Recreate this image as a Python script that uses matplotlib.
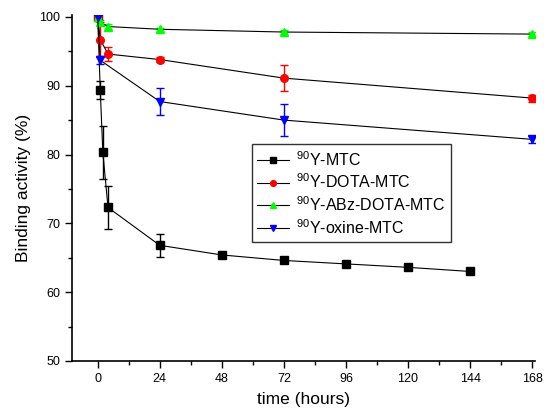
import numpy as np
import matplotlib
matplotlib.use("Agg")
import matplotlib.pyplot as plt
from matplotlib.ticker import MultipleLocator

plt.rcParams['font.family'] = ['Liberation Sans', 'DejaVu Sans']
plt.rcParams['mathtext.fontset'] = 'custom'
plt.rcParams['mathtext.rm'] = 'Liberation Sans'

# ---- data ----
t_mtc = [0, 1, 2, 4, 24, 48, 72, 96, 120, 144]
y_mtc = [100, 89.4, 80.3, 72.3, 66.8, 65.4, 64.6, 64.1, 63.6, 63.0]
e_mtc = [0.3, 1.3, 3.8, 3.1, 1.7, 0.4, 0.3, 0.3, 0.3, 0.3]

t_dota = [0, 1, 4, 24, 72, 168]
y_dota = [100, 96.7, 94.6, 93.8, 91.1, 88.2]
e_dota = [0.3, 2.5, 1.0, 0.3, 1.9, 0.5]

t_abz = [0, 1, 4, 24, 72, 168]
y_abz = [100, 99.2, 98.6, 98.2, 97.8, 97.5]
e_abz = [0.3, 0.4, 0.3, 0.2, 0.3, 0.3]

t_oxine = [0, 1, 24, 72, 168]
y_oxine = [100, 93.7, 87.7, 85.0, 82.2]
e_oxine = [0.3, 0.6, 2.0, 2.3, 0.5]

series = [
    (t_mtc, y_mtc, e_mtc, "s", "black", "$^{90}$Y-MTC"),
    (t_dota, y_dota, e_dota, "o", "red", "$^{90}$Y-DOTA-MTC"),
    (t_abz, y_abz, e_abz, "^", "#00ff00", "$^{90}$Y-ABz-DOTA-MTC"),
    (t_oxine, y_oxine, e_oxine, "v", "blue", "$^{90}$Y-oxine-MTC"),
]

fig = plt.figure(figsize=(5.44, 4.12), dpi=100)
ax = fig.add_axes([0.132, 0.124, 0.851, 0.840])

handles = []
for t, y, e, mk, col, lab in series:
    ax.errorbar(t, y, yerr=e, fmt="none", ecolor=col, elinewidth=1,
                capsize=3, capthick=1, zorder=2)
    h, = ax.plot(t, y, color="black", lw=0.8, marker=mk, markersize=5.5,
                 markerfacecolor=col, markeredgecolor=col, label=lab, zorder=3)
    handles.append(h)

ax.set_xlim(-10, 169)
ax.set_ylim(50, 100.3)
ax.xaxis.set_major_locator(MultipleLocator(24))
ax.xaxis.set_minor_locator(MultipleLocator(12))
ax.yaxis.set_major_locator(MultipleLocator(10))
ax.yaxis.set_minor_locator(MultipleLocator(5))
ax.tick_params(which="major", direction="out", length=5, width=1, labelsize=9)
ax.tick_params(which="minor", direction="out", length=3, width=1)
ax.spines["top"].set_visible(False)
ax.spines["right"].set_visible(False)
for s in ("left", "bottom"):
    ax.spines[s].set_linewidth(1.2)

ax.set_xlabel("time (hours)", fontsize=12.5, labelpad=5)
ax.set_ylabel("Binding activity (%)", fontsize=12.5, labelpad=6)

leg = ax.legend(handles=handles, loc="upper left", bbox_to_anchor=(0.389, 0.626),
                fontsize=11.5, frameon=True, fancybox=False, handlelength=2.0,
                borderpad=0.35, labelspacing=0.25, handletextpad=0.4,
                markerscale=0.75, borderaxespad=0)
leg.get_frame().set_edgecolor("black")
leg.get_frame().set_linewidth(1)

fig.savefig("out.png", dpi=100)
